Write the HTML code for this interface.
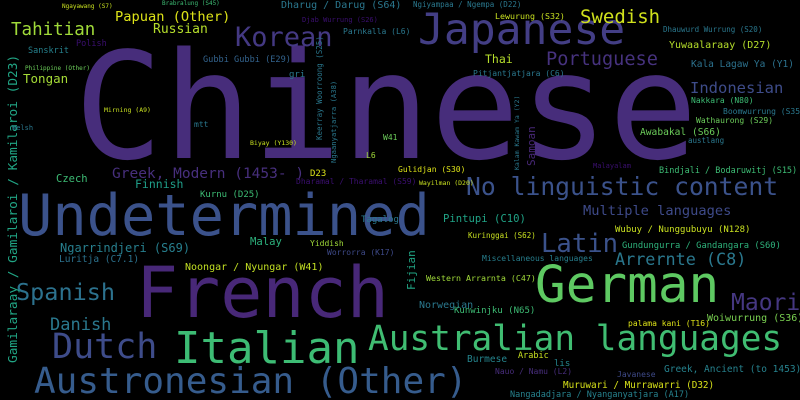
<!DOCTYPE html>
<html><head><meta charset="utf-8"><style>
html,body{margin:0;padding:0;background:#000;}
svg{display:block;}
text{font-family:"DejaVu Sans Mono","Liberation Mono",monospace;}
</style></head><body>
<svg id="cloud" width="800" height="400" viewBox="0 0 800 400" xmlns="http://www.w3.org/2000/svg">
<rect width="800" height="400" fill="#000"/>
<g id="words"></g>
</svg>
<script>
const words = ["Chinese","Undetermined","French","Italian","German","Australian languages","Austronesian (Other)","Japanese","Dutch","No linguistic content","Korean","Latin","Spanish","Maori","Swedish","Portuguese","Tahitian","Danish","Arrernte (C8)","Indonesian","Greek, Modern (1453- )","Papuan (Other)","Multiple languages","Russian","Gamilaraay / Gamilaroi / Kamilaroi (D23)","Tongan","Ngarrindjeri (S69)","Thai","Finnish","Fijian","Samoan","Pintupi (C10)","Czech","Malay","Noongar / Nyungar (W41)","Woiwurrung (S36)","Norwegian","Yuwaalaraay (D27)","Awabakal (S66)","Luritja (C7.1)","Burmese","Greek, Ancient (to 1453)","Muruwari / Murrawarri (D32)","Kala Lagaw Ya (Y1)","Dharug / Darug (S64)","Kurnu (D25)","Kunwinjku (N65)","Wubuy / Nunggubuyu (N128)","Gundungurra / Gandangara (S60)","Gubbi Gubbi (E29)","Tagalog","Bindjali / Bodaruwitj (S15)","Arabic","lis","Sanskrit","Polish","Lewurung (S32)","Pitjantjatjara (C6)","Miscellaneous languages","Western Arrarnta (C47)","Nangadadjara / Nyanganyatjara (A17)","Yiddish","Worrorra (K17)","Kuringgai (S62)","palama kani (T16)","Nakkara (N80)","Boomwurrung (S35)","Wathaurong (S29)","Gulidjan (S30)","Javanese","Nauo / Namu (L2)","Dhauwurd Wurrung (S20)","Ngiyampaa / Ngempa (D22)","austlang","Keerray Woorroong (S25)","Ngaanyatjarra (A38)","Parnkalla (L6)","Djab Wurrung (S26)","Malayalam","Welsh","D23","Dharamal / Tharamal (S59)","gri","mtt","Wayilman (D20)","Kalam Kawam Ya (Y2)","Brabralung (S45)","Ngayawang (S7)","Philippine (Other)","Mirning (A9)","Biyay (Y130)","W41","L6"];
const weights = [148,57,70,44,51,34.4,36,43,35,24.7,27,25.6,23.5,23,19,18.6,17.5,17,16.8,15.5,14.5,13.7,13.7,13,12.8,12.5,12,11.5,11.5,11,11,10.6,10.5,10.6,10,10,10,10,9.6,9.5,9.5,9.5,9.3,9.5,10,9,9,9,8.8,8.6,9,8.5,8.5,9,8.5,8.5,8.3,8,8,8.3,8.5,8,8,7.5,8,8,8,8,8,8,8,7.5,7.5,7.5,7.5,7.2,8,7,7,7,9,8,9,8,6.5,6.5,6,6,6,6.5,6.5,8,8];
const layout = [
[74,158,"#472d7b",0],[18,235,"#3b528b",0],[136,317,"#482878",0],[174,363,"#3dbc74",0],[535,302,"#5ec962",0],
[368,350,"#40bd72",0],[34,393,"#365c8d",0],[418,44,"#433e85",0],[52,358,"#3e4c8a",0],[466,195,"#3b528b",0],
[235,46,"#443983",0],[541,252,"#3b528b",0],[16,300,"#2c728e",0],[731,310,"#453781",0],[580,23,"#d0e11c",0],
[546,65,"#46327e",0],[11,35,"#a0da39",0],[50,330,"#2a788e",0],[615,265,"#2a788e",0],[690,93,"#3e4c8a",0],
[112,178,"#472f7d",0],[115,21,"#dde318",0],[583,215,"#3e4a89",0],[153,33,"#b5de2b",0],[17,363,"#21a685",-90],
[23,83,"#a5db36",0],[60,252,"#277f8e",0],[485,63,"#b5de2b",0],[135,188,"#1f9e89",0],[415,290,"#21a685",-90],
[535,166,"#482878",-90],[443,222,"#20a386",0],[56,182,"#3dbb74",0],[250,245,"#2db27d",0],[185,270,"#c2df23",0],
[707,321,"#7ad151",0],[419,308,"#2a788e",0],[669,48,"#b5de2b",0],[640,135,"#6ccd5a",0],[59,262,"#2c728e",0],
[467,362,"#25858e",0],[664,372,"#26828e",0],[563,388,"#d8e219",0],[691,67,"#2c728e",0],[281,8,"#2a778e",0],
[200,197,"#3dbc74",0],[454,313,"#3dbc74",0],[615,232,"#c8e020",0],[622,248,"#2eb37c",0],[203,62,"#33638d",0],
[361,222,"#2a788e",0],[659,173,"#3dbc74",0],[518,358,"#c8e020",0],[554,366,"#25858e",0],[28,53,"#26828e",0],
[76,46,"#3b0f70",0],[495,19,"#c8e020",0],[473,76,"#2a788e",0],[482,261,"#277f8e",0],[426,281,"#a0da39",0],
[510,397,"#26828e",0],[310,246,"#a0da39",0],[327,255,"#3e4a89",0],[468,238,"#c8e020",0],[628,326,"#dde318",0],
[691,103,"#3dbc74",0],[723,114,"#2a788e",0],[696,123,"#6ccd5a",0],[398,172,"#dde318",0],[617,377,"#3e4a89",0],
[495,374,"#472d7b",0],[663,32,"#2a788e",0],[413,7,"#2a788e",0],[688,143,"#2a788e",0],[322,140,"#2a788e",-90],
[336,163,"#2a788e",-90],[343,34,"#2a788e",0],[302,22,"#3b0f70",0],[593,168,"#3b0f70",0],[12,130,"#2a788e",0],
[310,176,"#dde318",0],[296,184,"#3b0f70",0],[289,77,"#2a788e",0],[194,127,"#2a788e",0],[419,185,"#c8e020",0],
[519,170,"#2a788e",-90],[162,5,"#3dbc74",0],[62,8,"#c8e020",0],[25,70,"#6ccd5a",0],[104,112,"#c8e020",0],
[250,145,"#c8e020",0],[383,140,"#6ccd5a",0],[366,158,"#a0da39",0]
];
const g = document.getElementById('words');
const NS = "http://www.w3.org/2000/svg";
words.forEach((w, i) => {
  const L = layout[i];
  const t = document.createElementNS(NS, 'text');
  t.setAttribute('x', L[0]);
  t.setAttribute('y', L[1]);
  t.setAttribute('font-size', weights[i]);
  t.setAttribute('fill', L[2]);
  if (L[3]) t.setAttribute('transform', 'rotate(' + L[3] + ' ' + L[0] + ' ' + L[1] + ')');
  t.textContent = w;
  
  
  g.appendChild(t);
});
</script>
</body></html>
